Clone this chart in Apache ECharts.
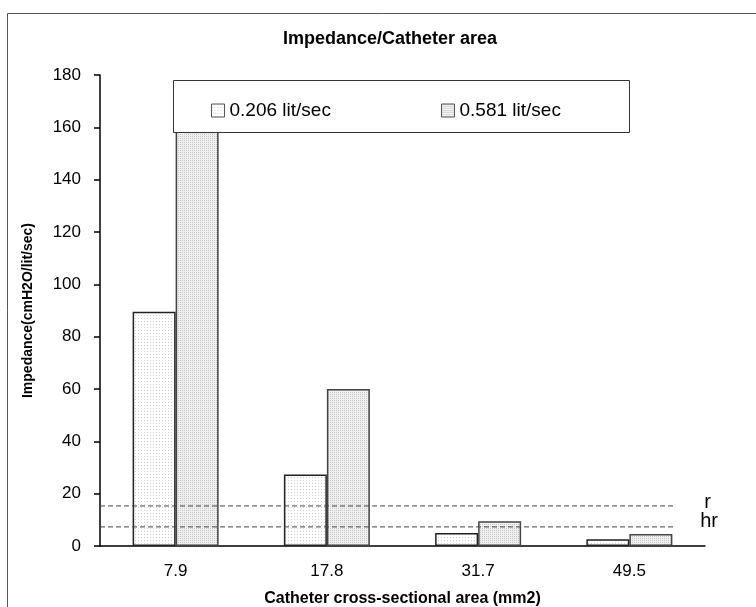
<!DOCTYPE html>
<html>
<head>
<meta charset="utf-8">
<script src="https://cdn.jsdelivr.net/npm/echarts@6/dist/echarts.min.js"></script>
<style>
  html, body { margin: 0; padding: 0; background: #fff; }
  #chart { width: 756px; height: 607px; }
</style>
</head>
<body>
<div id="chart"></div>
<script>
const categories = ['7.9', '17.8', '31.7', '49.5']
const seriesNames = ['0.206 lit/sec', '0.581 lit/sec']
const lowFlow = [89.5, 27.3, 5.0, 2.6]
const highFlow = [172, 60, 9.5, 4.6]
const yTicks = { min: 0, max: 180, interval: 20 }
// reference lines (value, label)
const refLines = [[15.3, 'r'], [7.3, 'hr']]
const refLineEnd = 3.79

const font = '"Liberation Sans", Arial, sans-serif'

// dotted fills like the original print-style chart
const makeDots = (size, bg, dot) => {
  const c = document.createElement('canvas')
  c.width = size
  c.height = size
  const ctx = c.getContext('2d')
  ctx.fillStyle = bg
  ctx.fillRect(0, 0, size, size)
  ctx.fillStyle = dot
  ctx.fillRect(0, 0, 1, 1)
  return { image: c, repeat: 'repeat' }
}
const fill1 = makeDots(3, '#ffffff', '#cfcfcf')
const fill2 = makeDots(2, '#f0f0f0', '#c6c6c6')

const chart = echarts.init(document.getElementById('chart'))

const legendBase = {
  top: 96,
  icon: 'rect',
  itemWidth: 13,
  itemHeight: 13,
  itemGap: 0,
  z: 20,
  selectedMode: false,
  itemStyle: { borderColor: '#555', borderWidth: 1 },
  textStyle: { fontFamily: font, fontSize: 19, color: '#000' }
}

const option = {
  backgroundColor: '#fff',
  animation: false,
  title: {
    text: 'Impedance/Catheter area',
    left: 385,
    textAlign: 'center',
    top: 25,
    textStyle: { fontFamily: font, fontSize: 18, fontWeight: 'bold', color: '#000' }
  },
  graphic: [
    {
      type: 'rect',
      shape: { x: 7.5, y: 13.5, width: 780, height: 620 },
      style: { fill: 'none', stroke: '#555', lineWidth: 1 },
      z: 1
    },
    {
      type: 'rect',
      shape: { x: 173.5, y: 80.5, width: 456, height: 52 },
      style: { fill: '#fff', stroke: '#333', lineWidth: 1 },
      z: 10
    }
  ],
  legend: [
    Object.assign({}, legendBase, { left: 206, data: [seriesNames[0]] }),
    Object.assign({}, legendBase, { left: 436, data: [seriesNames[1]] })
  ],
  grid: { left: 100, right: 51, top: 75, bottom: 61, containLabel: false, outerBoundsMode: 'none' },
  xAxis: [
    {
      type: 'category',
      data: categories,
      name: 'Catheter cross-sectional area (mm2)',
      nameLocation: 'middle',
      nameGap: 45,
      nameTextStyle: { fontFamily: font, fontSize: 16, fontWeight: 'bold', color: '#000' },
      axisLine: { lineStyle: { color: '#000', width: 1.5 } },
      axisTick: { length: 6, lineStyle: { color: '#000', width: 1.5 } },
      axisLabel: { fontFamily: font, fontSize: 17, color: '#000', margin: 17 }
    },
    {
      type: 'value',
      min: 0,
      max: 4,
      show: false
    }
  ],
  yAxis: {
    type: 'value',
    min: yTicks.min,
    max: yTicks.max,
    interval: yTicks.interval,
    name: 'Impedance(cmH2O/lit/sec)',
    nameLocation: 'middle',
    nameGap: 65,
    nameTextStyle: { fontFamily: font, fontSize: 14, fontWeight: 'bold', color: '#000' },
    splitLine: { show: false },
    axisLine: { show: true, lineStyle: { color: '#000', width: 1.5 } },
    axisTick: { show: true, length: 6, lineStyle: { color: '#000', width: 1.5 } },
    axisLabel: { fontFamily: font, fontSize: 17, color: '#000', margin: 19 }
  },
  series: [
    {
      name: seriesNames[0],
      type: 'bar',
      data: lowFlow,
      barWidth: 43,
      barGap: '0%',
      itemStyle: { color: fill1, borderColor: '#222', borderWidth: 1.5 }
    },
    {
      name: seriesNames[1],
      type: 'bar',
      data: highFlow,
      barWidth: 43,
      barGap: '0%',
      itemStyle: { color: fill2, borderColor: '#444', borderWidth: 1.5 }
    }
  ].concat(refLines.map(([v, label], i) => ({
    name: label,
    type: 'line',
    xAxisIndex: 1,
    data: [[0, v], [refLineEnd, v]],
    showSymbol: false,
    silent: true,
    lineStyle: { color: '#444', width: 1, type: [5, 3] },
    endLabel: {
      show: true,
      formatter: label,
      fontFamily: font,
      fontSize: 20,
      color: '#000',
      distance: 0,
      offset: i === 0 ? [31, -3] : [27, -5]
    }
  })))
}

chart.setOption(option)
</script>
</body>
</html>
